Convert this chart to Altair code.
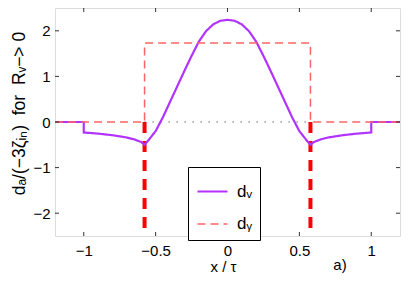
import altair as alt
import pandas as pd

# d_nu curve, in drawing order
x_nu = [-1.2, -1.0, -1.0, -0.9, -0.8, -0.7, -0.65, -0.6, -0.577,
        -0.55, -0.5, -0.45, -0.4, -0.35, -0.3, -0.25, -0.2, -0.15, -0.1, -0.05,
        0.0,
        0.05, 0.1, 0.15, 0.2, 0.25, 0.3, 0.35, 0.4, 0.45, 0.5, 0.55,
        0.577, 0.6, 0.65, 0.7, 0.8, 0.9, 1.0, 1.0, 1.2]
y_nu = [0.0, 0.0, -0.23, -0.255, -0.29, -0.34, -0.38, -0.44, -0.5,
        -0.40, -0.20, 0.10, 0.44, 0.78, 1.12, 1.45, 1.76, 1.99, 2.14, 2.22,
        2.24,
        2.22, 2.14, 1.99, 1.76, 1.45, 1.12, 0.78, 0.44, 0.10, -0.20, -0.40,
        -0.5, -0.44, -0.38, -0.34, -0.29, -0.255, -0.23, 0.0, 0.0]

# d_gamma step
x_ga = [-1.2, -0.577, -0.577, 0.577, 0.577, 1.2]
y_ga = [0.0, 0.0, 1.73, 1.73, 0.0, 0.0]

# delta spikes at the edges
x_delta = [-0.577, -0.577, 0.577, 0.577]
y_delta = [0.0, -2.5, 0.0, -2.5]
seg_delta = ["L", "L", "R", "R"]

# dotted zero line
x_dot = [-0.577, 0.577]
y_dot = [0.0, 0.0]

x_ticks = [-1.0, -0.5, 0.0, 0.5, 1.0]
y_ticks = [-2, -1, 0, 1, 2]

names = ["dᵥ", "dᵧ"]
PURPLE = "#b233ff"
LRED = "#ff6464"

W, H = 345, 228
FONT = "Liberation Sans"
NB = "\u00a0"

main = pd.DataFrame({
    "x": x_nu + x_ga,
    "y": y_nu + y_ga,
    "series": [names[0]] * len(x_nu) + [names[1]] * len(x_ga),
    "i": list(range(len(x_nu))) + list(range(len(x_ga))),
})
delta = pd.DataFrame({"x": x_delta, "y": y_delta, "seg": seg_delta})
dot = pd.DataFrame({"x": x_dot, "y": y_dot})
xt = pd.DataFrame({"x": x_ticks})
yt = pd.DataFrame({"y": y_ticks})

xs = alt.Scale(domain=[-1.2, 1.2], nice=False, zero=False)
ys = alt.Scale(domain=[-2.5, 2.5], nice=False, zero=False)

xaxis = alt.Axis(values=x_ticks, title="x / τ", ticks=False, domain=False, grid=False,
                 format="~g",
                 labelExpr="replace(datum.label, '-', '−')", labelFontSize=15,
                 labelFont=FONT, labelColor="black", labelPadding=7,
                 titleFont=FONT, titleFontSize=15, titleFontWeight="normal",
                 titleColor="black", titleX=168, titleY=30,
                 titleBaseline="middle", titleAlign="center")
ytitle = "dₐ/(−3ζᵢₙ)" + NB * 2 + "for" + NB * 2 + "Rᵥ−>" + NB + "0"
yaxis = alt.Axis(values=y_ticks, title=ytitle, ticks=False,
                 domain=False, grid=False, format="~g",
                 labelExpr="replace(datum.label, '-', '−')", labelFontSize=15,
                 labelFont=FONT, labelColor="black", labelPadding=5,
                 titleFont=FONT, titleFontSize=17.5, titleFontWeight="normal",
                 titleColor="black", titleX=-36, titleY=105, titleAlign="center",
                 titleBaseline="middle", titleAngle=270, titleLimit=300)

spikes = alt.Chart(delta).mark_line(color="#ff0000", strokeWidth=4,
                                    strokeDash=[11, 8], clip=True).encode(
    x=alt.X("x:Q", scale=xs, axis=xaxis),
    y=alt.Y("y:Q", scale=ys, axis=yaxis),
    detail="seg:N",
)

dotted = alt.Chart(dot).mark_line(color="#444444", strokeWidth=1,
                                  strokeDash=[1.2, 6.8]).encode(
    x=alt.X("x:Q", scale=xs), y=alt.Y("y:Q", scale=ys))

lines = alt.Chart(main).mark_line(clip=True).encode(
    x=alt.X("x:Q", scale=xs),
    y=alt.Y("y:Q", scale=ys),
    color=alt.Color("series:N", scale=alt.Scale(domain=names, range=[PURPLE, LRED]),
                    legend=alt.Legend(title=None, orient="none", legendX=133, legendY=159,
                                      symbolType="stroke", symbolSize=900,
                                      symbolStrokeWidth=2, labelFontSize=17,
                                      labelFont=FONT, labelColor="black",
                                      strokeColor="black", fillColor="white",
                                      padding=8, rowPadding=8, labelOffset=8)),
    strokeDash=alt.StrokeDash("series:N",
                              scale=alt.Scale(domain=names, range=[[1, 0], [8, 5]]),
                              legend=None),
    strokeWidth=alt.StrokeWidth("series:N",
                                scale=alt.Scale(domain=names, range=[2.2, 1.5]),
                                legend=None),
    order="i:Q",
)

tick_len = 4
xb = alt.Chart(xt).mark_rule(color="#333333").encode(
    x=alt.X("x:Q", scale=xs), y=alt.value(H), y2=alt.value(H - tick_len))
xtop = alt.Chart(xt).mark_rule(color="#333333").encode(
    x=alt.X("x:Q", scale=xs), y=alt.value(0), y2=alt.value(tick_len))
yl = alt.Chart(yt).mark_rule(color="#333333").encode(
    y=alt.Y("y:Q", scale=ys), x=alt.value(0), x2=alt.value(tick_len))
yr = alt.Chart(yt).mark_rule(color="#333333").encode(
    y=alt.Y("y:Q", scale=ys), x=alt.value(W), x2=alt.value(W - tick_len))

label = alt.Chart(pd.DataFrame({"t": ["a)"]})).mark_text(
    font=FONT, fontSize=15, color="black", align="center", baseline="middle").encode(
    text="t:N", x=alt.value(285), y=alt.value(257))

chart = alt.layer(spikes, dotted, lines, xb, xtop, yl, yr, label).properties(
    width=W, height=H,
    autosize=alt.AutoSizeParams(type="none"),
    padding={"left": 47, "top": 0, "right": 1, "bottom": 43},
).configure_view(stroke="#555555", strokeWidth=1).configure(background="white")

chart.save("out.html", embed_options={"renderer": "svg", "actions": False})
